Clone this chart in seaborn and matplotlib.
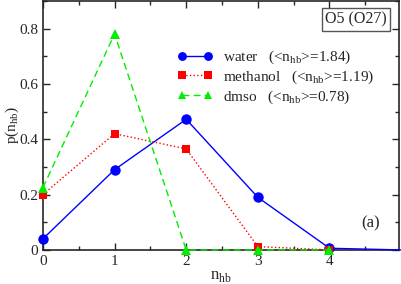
import numpy as np
import pandas as pd
import matplotlib
matplotlib.use('Agg')
import matplotlib.pyplot as plt
from matplotlib.ticker import MultipleLocator
import seaborn as sns

# ── Data ──────────────────────────────────────────────────────────────────────
n_hb = [0, 1, 2, 3, 4, 5]
water = [0.04, 0.29, 0.472, 0.19, 0.006, 0.0]
methanol = [0.20, 0.42, 0.365, 0.012, 0.0]
dmso = [0.225, 0.78, 0.0, 0.0, 0.0]

labels = ['water   (<n$_{\\rm hb}$>=1.84)',
          'methanol   (<n$_{\\rm hb}$>=1.19)',
          'dmso   (<n$_{\\rm hb}$>=0.78)']

sns.set_style('ticks')
plt.rcParams['font.family'] = ['Liberation Serif', 'DejaVu Serif']
plt.rcParams['mathtext.fontset'] = 'custom'
plt.rcParams['mathtext.rm'] = 'Liberation Serif'

fig = plt.figure(figsize=(4.01, 2.84), dpi=100)
ax = fig.add_axes([0.107, 0.12, 0.888, 0.877])

df_w = pd.DataFrame({'n': n_hb, 'p': water})
df_m = pd.DataFrame({'n': n_hb[:len(methanol)], 'p': methanol})
df_d = pd.DataFrame({'n': n_hb[:len(dmso)], 'p': dmso})

sns.lineplot(data=df_w, x='n', y='p', ax=ax, color='#0000ff', lw=1.0,
             marker='o', markersize=7.5, markeredgewidth=0, label=labels[0],
             markevery=[0, 1, 2, 3, 4], clip_on=False, zorder=3)
sns.lineplot(data=df_m, x='n', y='p', ax=ax, color='#ff0000', lw=1.0,
             linestyle=':', marker='s', markersize=6, markeredgewidth=0,
             label=labels[1], clip_on=False, zorder=4)
sns.lineplot(data=df_d, x='n', y='p', ax=ax, color='#00ee00', lw=1.0,
             linestyle=(0, (5, 3)), marker='^', markersize=6.5,
             markeredgewidth=0, label=labels[2], clip_on=False, zorder=5)

ax.set_xlim(0, 4.97)
ax.set_ylim(0, 0.9)
ax.set_xticks([0, 1, 2, 3, 4])
ax.set_yticks([0, 0.2, 0.4, 0.6, 0.8])
ax.set_yticklabels(['0', '0.2', '0.4', '0.6', '0.8'])
ax.xaxis.set_minor_locator(MultipleLocator(0.5))
ax.yaxis.set_minor_locator(MultipleLocator(0.1))
ax.tick_params(which='both', direction='in', top=True, right=True,
               labelsize=11, width=1.0)
ax.tick_params(which='major', length=5)
ax.tick_params(which='minor', length=3)
for s in ax.spines.values():
    s.set_linewidth(1.2)

ax.set_xlabel('n$_{\\rm hb}$', fontsize=12, labelpad=0)
ax.set_ylabel('p(n$_{\\rm hb}$)', fontsize=11)
ax.yaxis.set_label_coords(-0.062, 0.5)

ax.legend(loc='upper right', bbox_to_anchor=(0.96, 0.85), frameon=False,
          fontsize=11, handlelength=2.3, labelspacing=0.15, numpoints=2,
          markerscale=0.85, handletextpad=0.7, borderaxespad=0.3)

ax.text(0.965, 0.925, 'O5 (O27)', transform=ax.transAxes, ha='right',
        va='center', fontsize=11.5,
        bbox=dict(boxstyle='square,pad=0.2', fc='white', ec='#555555', lw=1))
ax.text(0.945, 0.105, '(a)', transform=ax.transAxes, ha='right',
        va='center', fontsize=12)

fig.savefig('out.png', dpi=100, facecolor='white')
